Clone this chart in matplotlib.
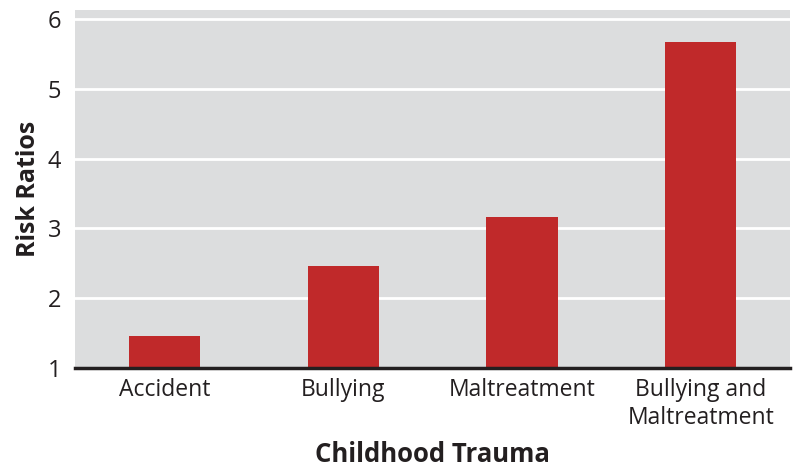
import matplotlib.pyplot as plt
import numpy as np

categories = ["Accident", "Bullying", "Maltreatment", "Bullying and\nMaltreatment"]
risk_ratios = [1.46, 2.46, 3.16, 5.67]
yticks = [1, 2, 3, 4, 5, 6]

plt.rcParams['font.family'] = ['Open Sans', 'DejaVu Sans']

fig = plt.figure(figsize=(8, 4.73), dpi=100)
ax = fig.add_axes([0.094, 0.222, 0.8935, 0.757])
ax.set_facecolor("#dcddde")

x = np.arange(len(categories))
base = 1
ax.bar(x, [v - base for v in risk_ratios], bottom=base, width=0.4,
       color="#c0292a", zorder=3)

ax.set_xlim(-0.5, 3.5)
ax.set_ylim(1, 6.13)
ax.set_yticks(yticks)
ax.set_yticklabels([str(t) for t in yticks], fontsize=17, color="#231f20")
ax.set_xticks(x)
ax.set_xticklabels(categories, fontsize=16.5, color="#231f20", linespacing=1.25)
ax.tick_params(length=0)
ax.tick_params(axis="x", pad=7)
ax.tick_params(axis="y", pad=10)

ax.grid(axis="y", color="white", linewidth=2, zorder=1)
ax.set_axisbelow(True)
for s in ["top", "right", "left"]:
    ax.spines[s].set_visible(False)
ax.spines["bottom"].set_linewidth(2.5)
ax.spines["bottom"].set_color("#231f20")
ax.spines["bottom"].set_zorder(4)

ax.set_xlabel("Childhood Trauma", fontsize=18.5, fontweight="bold", color="#231f20", labelpad=8)
ax.set_ylabel("Risk Ratios", fontsize=18, fontweight="bold", color="#231f20", labelpad=5)

fig.savefig("out.png", dpi=100)
